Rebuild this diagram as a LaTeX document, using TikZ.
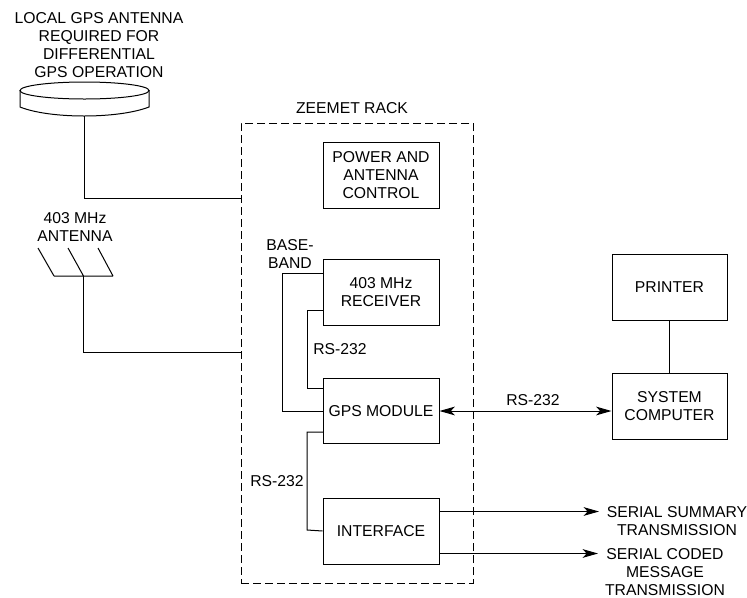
\documentclass[tikz,border=0pt]{standalone}
\usepackage{fontspec}
\setmainfont{Liberation Sans}
\usetikzlibrary{arrows.meta}
\tikzset{
  px/.style={x=0.75pt,y=-0.75pt},
  boxn/.style={draw,line width=0.75pt,inner sep=0pt,align=center,font=\fontsize{11.8}{13.3}\selectfont},
  lbl/.style={inner sep=0pt,align=center,font=\fontsize{11.8}{13.3}\selectfont},
  wire/.style={line width=0.75pt},
  arr/.style={line width=0.75pt,-{Stealth[length=11.5pt,width=6.5pt,inset=3pt]}},
  arrb/.style={line width=0.75pt,{Stealth[length=11.5pt,width=6.5pt,inset=3pt]}-{Stealth[length=11.5pt,width=6.5pt,inset=3pt]}},
}
\begin{document}
\begin{tikzpicture}[px]
\useasboundingbox (0,0) rectangle (747,597);
\def\bx#1#2#3#4#5#6{\node[boxn,minimum width=#4*0.75pt,minimum height=#5*0.75pt] (#1) at (#2,#3) {#6};}
\node[draw,dash pattern=on 6pt off 3pt,line width=0.75pt,minimum width=232*0.75pt,minimum height=460*0.75pt,inner sep=0pt] (rack) at (357,353) {};
\bx{power}{381}{175}{116}{66}{POWER AND\\ANTENNA\\CONTROL}
\bx{rcv}{381}{292}{116}{66}{403 MHz\\RECEIVER}
\bx{gps}{381}{411}{116}{65}{GPS MODULE}
\bx{iface}{381}{531}{116}{66}{INTERFACE}
\bx{printer}{669.5}{287}{115}{66}{PRINTER}
\bx{comp}{669.5}{406}{115}{66}{SYSTEM\\COMPUTER}
\node[lbl] (t1) at (99,45) {LOCAL GPS ANTENNA\\REQUIRED FOR\\DIFFERENTIAL\\GPS OPERATION};
\node[lbl] (t2) at (352,108) {ZEEMET RACK};
\node[lbl] (t3) at (75,227) {403 MHz\\ANTENNA};
\node[lbl] (t4) at (290,254) {BASE-\\BAND};
\node[lbl] (t5) at (340,349) {RS-232};
\node[lbl] (t6) at (533,400) {RS-232};
\node[lbl] (t7) at (277,481) {RS-232};
\node[lbl] (t9) at (677,521) {SERIAL SUMMARY\\TRANSMISSION};
\node[lbl] (t10) at (665,572) {SERIAL CODED\\MESSAGE\\TRANSMISSION};
% dish
\draw[wire] (20,90) -- (20,107) .. controls (50,119) and (118,119) .. (149,107) -- (149,90);
\draw[wire] (84.5,90.5) ellipse[x radius=64.5,y radius=8.5];
\coordinate (dishb) at (84,116);
\coordinate (rackA) at (241,198);
\draw[wire] (dishb) |- (rackA);
% yagi
\coordinate (a1) at (38,248);
\coordinate (a2) at (68,248);
\coordinate (a3) at (98,248);
\coordinate (b1) at (54,276);
\coordinate (b2) at (83.5,276);
\coordinate (b3) at (113,276);
\draw[wire] (a1)--(b1) (a2)--(b2) (a3)--(b3) (b1)--(b3);
\coordinate (rackB) at (241,352);
\draw[wire] (b2) |- (rackB);
\draw[wire] (printer) -- (comp);
\draw[arrb] (gps.east) -- (comp.west |- gps.east);
\coordinate (r1) at (323,273);
\coordinate (r2) at (323,310);
\coordinate (g1) at (323,388);
\coordinate (g2) at (323,432);
\draw[wire] (r1) -| (282,411) -- (gps.west);
\draw[wire] (r2) -| (307,388) -- (g1);
\draw[wire] (g2) -| (307,530) -- (iface.west);
\coordinate (i1) at (439,511.5);
\coordinate (i2) at (439,553.5);
\coordinate (o1) at (599,511.5);
\coordinate (o2) at (598,553.5);
\draw[arr] (i1) -- (o1);
\draw[arr] (i2) -- (o2);
\end{tikzpicture}
\end{document}
